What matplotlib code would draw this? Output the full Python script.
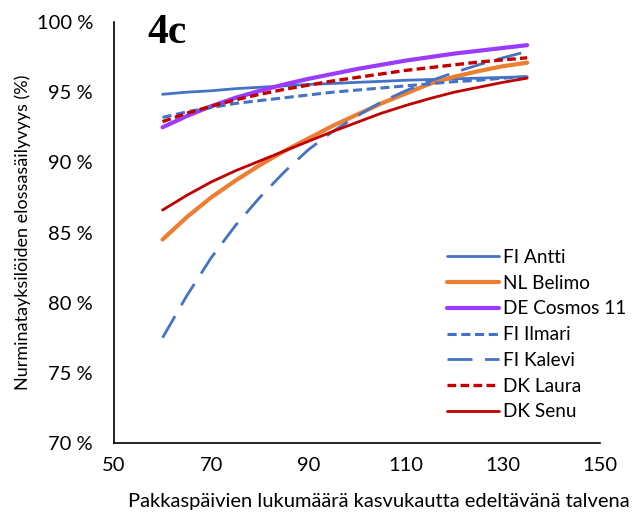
import matplotlib
matplotlib.use("Agg")
import matplotlib.pyplot as plt
from matplotlib.ticker import FuncFormatter

# Frost days in the preceding winter
frost_days = [60, 65, 70, 75, 80, 85, 90, 95, 100, 105, 110, 115, 120, 125, 130, 135]

# Survival (%) per cultivar
fi_antti = [94.85, 95.0, 95.1, 95.25, 95.35, 95.45, 95.55, 95.62, 95.7, 95.77, 95.85, 95.9, 95.95, 96.0, 96.05, 96.1]
nl_belimo = [84.5, 86.1, 87.5, 88.7, 89.8, 90.8, 91.7, 92.6, 93.4, 94.2, 94.9, 95.6, 96.1, 96.5, 96.85, 97.1]
de_cosmos = [92.5, 93.3, 94.0, 94.6, 95.1, 95.55, 95.95, 96.3, 96.65, 96.95, 97.25, 97.5, 97.75, 97.95, 98.15, 98.35]
fi_ilmari = [93.2, 93.6, 93.9, 94.2, 94.4, 94.6, 94.8, 95.0, 95.15, 95.3, 95.45, 95.6, 95.75, 95.85, 96.0, 96.1]
fi_kalevi = [77.5, 80.5, 83.2, 85.5, 87.5, 89.3, 90.9, 92.2, 93.3, 94.3, 95.1, 95.8, 96.4, 96.95, 97.45, 97.9]
dk_laura = [92.9, 93.5, 94.0, 94.45, 94.85, 95.2, 95.5, 95.8, 96.05, 96.3, 96.55, 96.75, 96.95, 97.15, 97.3, 97.45]
dk_senu = [86.6, 87.65, 88.6, 89.4, 90.1, 90.8, 91.5, 92.2, 92.85, 93.5, 94.05, 94.55, 95.0, 95.35, 95.7, 96.0]

x_ticks = [50, 70, 90, 110, 130, 150]
y_ticks = [70, 75, 80, 85, 90, 95, 100]

BLUE = "#4472C4"
ORANGE = "#ED7D31"
PURPLE = "#9B3BFF"
RED = "#C00000"

plt.rcParams["font.family"] = ["Lato", "DejaVu Sans"]

fig = plt.figure(figsize=(6.33, 5.18), dpi=100)
ax = fig.add_axes([0.180, 0.1448, 0.768, 0.8127])

line_kw = dict(solid_capstyle="round", dash_capstyle="butt", solid_joinstyle="round")
ax.plot(frost_days, fi_antti, color=BLUE, lw=2.0, label="FI Antti", **line_kw)
ax.plot(frost_days, nl_belimo, color=ORANGE, lw=3.0, label="NL Belimo", **line_kw)
ax.plot(frost_days, de_cosmos, color=PURPLE, lw=3.0, label="DE Cosmos 11", **line_kw)
ax.plot(frost_days, fi_ilmari, color=BLUE, lw=2.2, dashes=(3, 1.5), label="FI Ilmari", **line_kw)
ax.plot(frost_days, fi_kalevi, color=BLUE, lw=2.0, dashes=(9, 4.5), label="FI Kalevi", **line_kw)
ax.plot(frost_days, dk_laura, color=RED, lw=2.4, dashes=(2.6, 1.3), label="DK Laura", **line_kw)
ax.plot(frost_days, dk_senu, color=RED, lw=2.0, label="DK Senu", **line_kw)

ax.set_xlim(50, 150)
ax.set_ylim(70, 100)
ax.set_xticks(x_ticks)
ax.set_yticks(y_ticks)
ax.yaxis.set_major_formatter(FuncFormatter(lambda v, p: f"{int(v)} %"))
ax.tick_params(axis="both", length=0, labelsize=14.5, colors="#000000")
ax.tick_params(axis="y", pad=15)
ax.tick_params(axis="x", pad=10)
for s in ("top", "right"):
    ax.spines[s].set_visible(False)
for s in ("left", "bottom"):
    ax.spines[s].set_linewidth(1.2)
    ax.spines[s].set_color("#000000")

ax.set_xlabel("Pakkaspäivien lukumäärä kasvukautta edeltävänä talvena", fontsize=14.5, labelpad=12)
ax.xaxis.set_label_coords(0.545, -0.118)
ax.set_ylabel("Nurminatayksilöiden elossasäilyvyys (%)", fontsize=13, labelpad=4)

ax.text(0.068, 0.950, "4c", transform=ax.transAxes, fontsize=30, fontweight="bold",
        family="Liberation Serif", va="baseline", ha="left")

leg = ax.legend(loc="upper left", bbox_to_anchor=(0.685, 0.461), frameon=False,
                fontsize=13.7, handlelength=2.75, handletextpad=0.2, labelspacing=0.46,
                borderaxespad=0, borderpad=0)

fig.savefig("out.png", dpi=100)
